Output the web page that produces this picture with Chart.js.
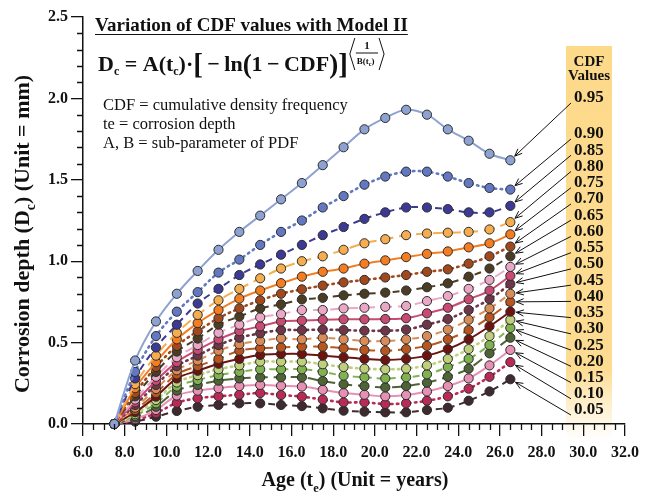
<!DOCTYPE html>
<html lang="en">
<head>
<meta charset="UTF-8">
<title>Variation of CDF values with Model II</title>
<script src="https://cdn.jsdelivr.net/npm/chart.js@4.4.0/dist/chart.umd.min.js"></script>
<style>
  body { margin: 0; background: #fff; }
  #wrap { width: 646px; height: 493px; }
</style>
</head>
<body>
<div id="wrap"><canvas id="chart" width="646" height="493"></canvas></div>
<script>
// ages (years) at which the depths were evaluated
const ages = [7.5, 8.5, 9.5, 10.5, 11.5, 12.5, 13.5, 14.5, 15.5, 16.5, 17.5, 18.5, 19.5, 20.5, 21.5, 22.5, 23.5, 24.5, 25.5, 26.5];
const xTicks = [6, 8, 10, 12, 14, 16, 18, 20, 22, 24, 26, 28, 30, 32];
const yTicks = [0, 0.5, 1.0, 1.5, 2.0, 2.5];
const cdfLabels = ['0.95', '0.90', '0.85', '0.80', '0.75', '0.70', '0.65', '0.60', '0.55', '0.50',
                   '0.45', '0.40', '0.35', '0.30', '0.25', '0.20', '0.15', '0.10', '0.05'];

// corrosion depth (mm) per CDF value
const cdf95 = [0, 0.39, 0.63, 0.80, 0.94, 1.07, 1.18, 1.28, 1.38, 1.48, 1.59, 1.70, 1.81, 1.88, 1.93, 1.90, 1.81, 1.74, 1.66, 1.62];
const cdf90 = [0, 0.32, 0.54, 0.69, 0.81, 0.93, 1.01, 1.10, 1.18, 1.25, 1.33, 1.40, 1.47, 1.52, 1.55, 1.55, 1.52, 1.48, 1.45, 1.44];
const cdf85 = [0, 0.28, 0.47, 0.61, 0.74, 0.83, 0.915, 0.98, 1.04, 1.10, 1.16, 1.21, 1.26, 1.30, 1.33, 1.33, 1.32, 1.30, 1.30, 1.34];
const cdf80 = [0, 0.245, 0.42, 0.56, 0.67, 0.76, 0.83, 0.895, 0.955, 1.00, 1.03, 1.07, 1.11, 1.135, 1.16, 1.17, 1.175, 1.18, 1.195, 1.24];
const cdf75 = [0, 0.22, 0.38, 0.52, 0.62, 0.70, 0.77, 0.82, 0.865, 0.905, 0.935, 0.955, 0.985, 1.005, 1.025, 1.045, 1.06, 1.085, 1.11, 1.165];
const cdf70 = [0, 0.19, 0.35, 0.48, 0.57, 0.65, 0.71, 0.76, 0.80, 0.827, 0.85, 0.87, 0.885, 0.90, 0.915, 0.935, 0.95, 0.985, 1.03, 1.09];
const cdf65 = [0, 0.17, 0.32, 0.445, 0.525, 0.61, 0.66, 0.71, 0.735, 0.765, 0.775, 0.79, 0.80, 0.807, 0.82, 0.84, 0.864, 0.905, 0.955, 1.03];
const cdf60 = [0, 0.15, 0.29, 0.41, 0.485, 0.56, 0.61, 0.655, 0.675, 0.70, 0.70, 0.71, 0.714, 0.72, 0.725, 0.755, 0.786, 0.83, 0.885, 0.965];
const cdf55 = [0, 0.133, 0.266, 0.38, 0.455, 0.52, 0.57, 0.60, 0.63, 0.635, 0.64, 0.643, 0.643, 0.645, 0.65, 0.68, 0.714, 0.766, 0.82, 0.91];
const cdf50 = [0, 0.117, 0.24, 0.355, 0.42, 0.485, 0.53, 0.557, 0.577, 0.577, 0.58, 0.577, 0.573, 0.573, 0.58, 0.61, 0.645, 0.70, 0.766, 0.86];
const cdf45 = [0, 0.10, 0.215, 0.33, 0.39, 0.45, 0.49, 0.51, 0.526, 0.52, 0.53, 0.52, 0.51, 0.51, 0.52, 0.54, 0.58, 0.64, 0.71, 0.80];
const cdf40 = [0, 0.086, 0.19, 0.305, 0.356, 0.40, 0.45, 0.465, 0.47, 0.475, 0.475, 0.465, 0.455, 0.45, 0.46, 0.48, 0.52, 0.577, 0.655, 0.75];
const cdf35 = [0, 0.072, 0.168, 0.28, 0.327, 0.37, 0.40, 0.424, 0.43, 0.43, 0.42, 0.41, 0.40, 0.393, 0.40, 0.42, 0.46, 0.52, 0.60, 0.69];
const cdf30 = [0, 0.06, 0.147, 0.255, 0.30, 0.336, 0.36, 0.383, 0.383, 0.383, 0.367, 0.35, 0.34, 0.336, 0.34, 0.36, 0.40, 0.46, 0.54, 0.64];
const cdf25 = [0, 0.05, 0.127, 0.23, 0.27, 0.30, 0.32, 0.336, 0.336, 0.336, 0.32, 0.297, 0.287, 0.28, 0.287, 0.305, 0.35, 0.40, 0.485, 0.59];
const cdf20 = [0, 0.04, 0.106, 0.205, 0.24, 0.266, 0.28, 0.287, 0.287, 0.287, 0.264, 0.244, 0.233, 0.225, 0.233, 0.254, 0.29, 0.34, 0.434, 0.53];
const cdf15 = [0, 0.03, 0.086, 0.175, 0.205, 0.22, 0.233, 0.24, 0.235, 0.23, 0.21, 0.19, 0.18, 0.17, 0.178, 0.20, 0.233, 0.28, 0.36, 0.455];
const cdf10 = [0, 0.023, 0.066, 0.13, 0.158, 0.17, 0.18, 0.19, 0.178, 0.168, 0.15, 0.133, 0.133, 0.123, 0.127, 0.143, 0.17, 0.217, 0.29, 0.38];
const cdf05 = [0, 0.015, 0.045, 0.08, 0.106, 0.117, 0.127, 0.127, 0.117, 0.11, 0.096, 0.082, 0.076, 0.072, 0.072, 0.086, 0.10, 0.143, 0.20, 0.275];

const series = [cdf95, cdf90, cdf85, cdf80, cdf75, cdf70, cdf65, cdf60, cdf55, cdf50,
                cdf45, cdf40, cdf35, cdf30, cdf25, cdf20, cdf15, cdf10, cdf05];

const colors = ['#8ea2d2', '#6378c2', '#3d3a96', '#f6ad50', '#f37d20', '#a2481d', '#4a3d23', '#eaa8c6', '#c94a72', '#6f3549',
                '#d98c58', '#b9561f', '#6e130f', '#bfd07d', '#80b24f', '#4e6336', '#e88fb4', '#b92a56', '#3f2a30'];
// solid, dotted, dashed, long dash - repeating
const dashes = [[], [1.5, 4.5], [7, 5], [11, 6]];

const SERIF = '"Liberation Serif", "Times New Roman", serif';
const fnt = (size, bold) => (bold ? 'bold ' : '') + size + 'px ' + SERIF;

const datasets = series.map((d, i) => ({
  label: cdfLabels[i],
  data: d.map((v, j) => ({ x: ages[j], y: v })),
  borderColor: colors[i],
  backgroundColor: colors[i],
  pointBackgroundColor: colors[i],
  pointBorderColor: '#2b2b2b',
  pointBorderWidth: 1,
  pointRadius: 4.6,
  borderWidth: i % 4 === 1 ? 2.6 : 2,
  borderDash: dashes[i % 4],
  borderCapStyle: i % 4 === 1 ? 'round' : 'butt',
  tension: 0.35,
  clip: false
}));

function richText(ctx, parts, x, y, size, align) {
  let w = 0;
  parts.forEach(p => { ctx.font = fnt(p.sub ? size * 0.62 : size, true); w += ctx.measureText(p.t).width; });
  let cx = align === 'center' ? x - w / 2 : x;
  ctx.textAlign = 'left';
  parts.forEach(p => {
    ctx.font = fnt(p.sub ? size * 0.62 : size, true);
    ctx.fillText(p.t, cx, y + (p.sub ? size * 0.28 : 0));
    cx += ctx.measureText(p.t).width;
  });
}

function arrow(ctx, x1, y1, x2, y2) {
  const a = Math.atan2(y2 - y1, x2 - x1);
  ctx.beginPath();
  ctx.moveTo(x1, y1);
  ctx.lineTo(x2, y2);
  ctx.moveTo(x2 - 8 * Math.cos(a - 0.4), y2 - 8 * Math.sin(a - 0.4));
  ctx.lineTo(x2, y2);
  ctx.lineTo(x2 - 8 * Math.cos(a + 0.4), y2 - 8 * Math.sin(a + 0.4));
  ctx.stroke();
}

const decor = {
  id: 'decor',
  beforeDraw(chart) {
    const ctx = chart.ctx;
    ctx.save();
    // yellow band behind the CDF value labels
    const g = ctx.createLinearGradient(0, 46, 0, 440);
    g.addColorStop(0, '#fdd98a');
    g.addColorStop(0.82, '#fddc92');
    g.addColorStop(1, 'rgba(253,225,160,0)');
    ctx.fillStyle = g;
    ctx.fillRect(566, 46, 46, 394);
    ctx.restore();
  },
  afterDraw(chart) {
    const ctx = chart.ctx;
    const xs = chart.scales.x, ys = chart.scales.y;
    ctx.save();
    ctx.fillStyle = '#111';
    ctx.strokeStyle = '#111';

    // minor ticks
    ctx.lineWidth = 1.3;
    ctx.beginPath();
    for (let v = 6; v <= 32; v += 0.5) {
      if (v % 2 === 0) continue;
      const px = Math.round(xs.getPixelForValue(v)) + 0.5;
      ctx.moveTo(px, ys.bottom); ctx.lineTo(px, ys.bottom + 6);
    }
    for (let k = 0; k <= 25; k++) {
      if (k % 5 === 0) continue;
      const py = Math.round(ys.getPixelForValue(k / 10)) + 0.5;
      ctx.moveTo(xs.left, py); ctx.lineTo(xs.left - 6, py);
    }
    ctx.stroke();

    // axis titles
    ctx.textBaseline = 'alphabetic';
    richText(ctx, [{ t: 'Age (t' }, { t: 'e', sub: true }, { t: ') (Unit = years)' }], 355, 486, 20, 'center');
    ctx.save();
    ctx.translate(29, 234);
    ctx.rotate(-Math.PI / 2);
    richText(ctx, [{ t: 'Corrosion depth (D' }, { t: 'c', sub: true }, { t: ') (Unit = mm)' }], 0, 0, 22, 'center');
    ctx.restore();

    // title block
    ctx.font = fnt(19, true);
    ctx.textAlign = 'left';
    const title = 'Variation of CDF values with Model II';
    ctx.fillText(title, 95, 31);
    const tw = ctx.measureText(title).width;
    ctx.lineWidth = 1.2;
    ctx.beginPath(); ctx.moveTo(95, 34.5); ctx.lineTo(95 + tw, 34.5); ctx.stroke();

    // formula
    let cx = 98;
    const base = 71;
    const put = (t, size, dy) => { ctx.font = fnt(size, true); ctx.fillText(t, cx, base + (dy || 0)); cx += ctx.measureText(t).width; };
    put('D', 22); put('c', 12, 4); put(' = A(t', 22); put('c', 12, 4); put(')\u00b7', 22);
    put('[', 29, 3); put('\u2009\u2212\u2009ln', 22); put('(', 27, 2); put('1\u2009\u2212\u2009CDF', 22); put(')', 27, 2); put(']', 29, 3);
    // exponent <1 / B(tc)>
    const ex = cx + 2;
    ctx.lineWidth = 1;
    ctx.beginPath();
    ctx.moveTo(ex + 5, 38); ctx.lineTo(ex, 54); ctx.lineTo(ex + 5, 70);
    ctx.stroke();
    ctx.font = fnt(9, true);
    const bw = ctx.measureText('B(t )').width + 3;
    ctx.textAlign = 'center';
    ctx.font = fnt(11, true);
    ctx.fillText('1', ex + 7 + bw / 2, 49);
    ctx.beginPath(); ctx.moveTo(ex + 6, 53); ctx.lineTo(ex + 8 + bw, 53); ctx.stroke();
    ctx.textAlign = 'left';
    let bx = ex + 7;
    ctx.font = fnt(9, true); ctx.fillText('B(t', bx, 64); bx += ctx.measureText('B(t').width;
    ctx.font = fnt(6, true); ctx.fillText('c', bx, 66); bx += ctx.measureText('c').width;
    ctx.font = fnt(9, true); ctx.fillText(')', bx, 64);
    const rx = ex + 9 + bw;
    ctx.beginPath();
    ctx.moveTo(rx, 38); ctx.lineTo(rx + 5, 54); ctx.lineTo(rx, 70);
    ctx.stroke();

    // notes
    ctx.font = fnt(16.5, false);
    ctx.fillText('CDF = cumulative density frequency', 103, 110);
    ctx.fillText('te = corrosion depth', 103, 129);
    ctx.fillText('A, B = sub-parameter of PDF', 103, 148);

    // CDF value labels and arrows
    ctx.textAlign = 'center';
    ctx.font = fnt(15, true);
    ctx.fillText('CDF', 589, 66);
    ctx.fillText('Values', 589, 80);
    ctx.font = fnt(17, true);
    ctx.textAlign = 'left';
    ctx.textBaseline = 'middle';
    ctx.lineWidth = 1;
    cdfLabels.forEach((lab, i) => {
      const ly = i === 0 ? 98 : 134 + (i - 1) * 16.24;
      ctx.fillText(lab, 574, ly);
      const meta = chart.getDatasetMeta(i);
      const pt = meta.data[meta.data.length - 1];
      const sx = 571, sy = ly + 5;
      const dx = pt.x - sx, dy = pt.y - sy, len = Math.hypot(dx, dy);
      arrow(ctx, sx, sy, pt.x - dx / len * 6, pt.y - dy / len * 6);
    });
    ctx.restore();
  }
};

new Chart(document.getElementById('chart'), {
  type: 'line',
  data: { datasets },
  options: {
    responsive: false,
    animation: false,
    layout: { padding: { top: 17, right: 21, left: 0, bottom: 0 } },
    plugins: { legend: { display: false }, tooltip: { enabled: false } },
    scales: {
      x: {
        type: 'linear',
        min: 6, max: 32,
        afterBuildTicks: s => { s.ticks = xTicks.map(v => ({ value: v })); },
        afterFit: s => { s.height = 69; },
        ticks: { callback: v => v.toFixed(1), font: { family: SERIF, size: 16, weight: 'bold' }, color: '#111', padding: 7, maxRotation: 0, autoSkip: false },
        grid: { drawOnChartArea: false, drawTicks: true, tickLength: 12, color: '#111', lineWidth: 1.3 },
        border: { display: true, color: '#111', width: 1.5 }
      },
      y: {
        min: 0, max: 2.5,
        afterBuildTicks: s => { s.ticks = yTicks.map(v => ({ value: v })); },
        afterFit: s => { s.width = 83; },
        ticks: { callback: v => v.toFixed(1), font: { family: SERIF, size: 16, weight: 'bold' }, color: '#111', padding: 3 },
        grid: { drawOnChartArea: false, drawTicks: true, tickLength: 12, color: '#111', lineWidth: 1.3 },
        border: { display: true, color: '#111', width: 1.5 }
      }
    }
  },
  plugins: [decor]
});
</script>
</body>
</html>
